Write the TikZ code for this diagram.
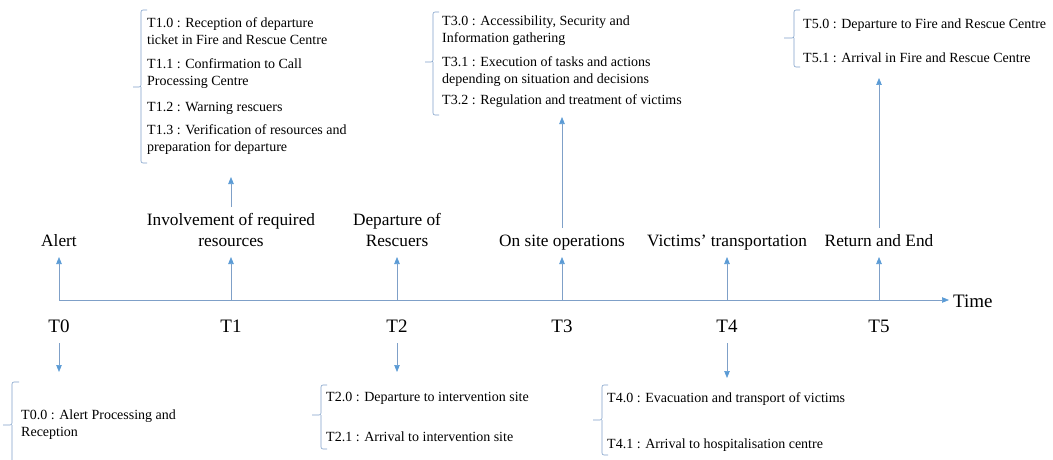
\documentclass[tikz,border=0pt]{standalone}
\usepackage{fontspec}
\setmainfont{Liberation Serif}
\usetikzlibrary{arrows.meta}

\definecolor{axisblue}{RGB}{127,160,200}
\definecolor{tipblue}{RGB}{91,155,213}

\tikzset{
  tl/.style={draw=axisblue, line width=0.7pt,
    -{Stealth[length=7pt,width=5.5pt,inset=0pt,color=tipblue]}},
  brace/.style={draw=axisblue, line width=0.6pt, rounded corners=2pt},
  phase/.style={font=\fontsize{17.3}{21}\selectfont, align=center,
    inner xsep=2pt, inner ysep=3.7pt, anchor=south},
  tmark/.style={font=\fontsize{19}{23}\selectfont, inner sep=0pt,
    text height=13pt, text depth=0pt},
  task/.style={font=\fontsize{14}{17}\selectfont, align=left,
    anchor=west, inner sep=0pt},
}

\begin{document}
\begin{tikzpicture}[x=1pt,y=-1pt]
    \useasboundingbox (0,0) rectangle (1053,460);

    % time axis
    \coordinate (p0) at (59,300);
    \coordinate (p1) at (231,300);
    \coordinate (p2) at (397,300);
    \coordinate (p3) at (562,300);
    \coordinate (p4) at (727,300);
    \coordinate (p5) at (879,300);
    \node[font=\fontsize{19}{23}\selectfont, anchor=west, inner sep=4pt] (time) at (949,301) {Time};
    \draw[tl] (p0) -- (p0 -| time.west);

    % phases
    \node[phase] (alert) at (59,257) {Alert\strut};
    \node[phase] (inv) at (231,257) {Involvement of required\strut\\resources\strut};
    \node[phase] (dep) at (397,257) {Departure of\strut\\Rescuers\strut};
    \node[phase] (site) at (562,257) {On site operations\strut};
    \node[phase] (transp) at (727,257) {Victims’ transportation\strut};
    \node[phase] (ret) at (879,257) {Return and End\strut};
    \draw[tl] (p0) -- (alert);
    \draw[tl] (p1) -- (inv);
    \draw[tl] (p2) -- (dep);
    \draw[tl] (p3) -- (site);
    \draw[tl] (p4) -- (transp);
    \draw[tl] (p5) -- (ret);

    % instants
    \node[tmark] (T0) at (59,326) {T0};
    \node[tmark] (T1) at (231,326) {T1};
    \node[tmark] (T2) at (397,326) {T2};
    \node[tmark] (T3) at (562,326) {T3};
    \node[tmark] (T4) at (727,326) {T4};
    \node[tmark] (T5) at (879,326) {T5};

    % tasks above the axis
    \coordinate (b1) at (231,177);
    \coordinate (b3) at (562,117);
    \coordinate (b5) at (879,78);
    \draw[tl] (inv) -- (b1);
    \draw[tl] (site) -- (b3);
    \draw[tl] (ret) -- (b5);

    \draw[brace] (147,10) -- (141,10) -- (141,87) -- (133,87) (141,87) -- (141,163) -- (147,163);
    \node[task] (t10) at (147,31) {T1.0 : Reception of departure\\ticket in Fire and Rescue Centre};
    \node[task] (t11) at (147,74) {T1.1 : Confirmation to Call\\Processing Centre};
    \node[task] (t12) at (147,108) {T1.2 : Warning rescuers};
    \node[task] (t13) at (147,140) {T1.3 : Verification of resources and\\preparation for departure};

    \draw[brace] (439,12) -- (433,12) -- (433,62) -- (425,62) (433,62) -- (433,115) -- (439,115);
    \node[task] (t30) at (442,31) {T3.0 : Accessibility, Security and\\Information gathering};
    \node[task] (t31) at (442,72) {T3.1 : Execution of tasks and actions\\depending on situation and decisions};
    \node[task] (t32) at (442,101) {T3.2 : Regulation and treatment of victims};

    \draw[brace] (800,10) -- (794,10) -- (794,38) -- (784,38) (794,38) -- (794,67) -- (800,67);
    \node[task] (t50) at (803,25) {T5.0 : Departure to Fire and Rescue Centre};
    \node[task] (t51) at (803,58) {T5.1 : Arrival in Fire and Rescue Centre};

    % tasks below the axis
    \coordinate (d0) at (59,372);
    \coordinate (d2) at (397,372);
    \coordinate (d4) at (727,378);
    \draw[tl, shorten <=10.5pt] (T0) -- (d0);
    \draw[tl, shorten <=10.5pt] (T2) -- (d2);
    \draw[tl, shorten <=10.5pt] (T4) -- (d4);

    \draw[brace] (19,382) -- (12,382) -- (12,425) -- (3,425) (12,425) -- (12,470) -- (19,470);
    \node[task] (t00) at (21,425) {T0.0 : Alert Processing and\\Reception};

    \draw[brace] (327,385) -- (321,385) -- (321,415) -- (312,415) (321,415) -- (321,449) -- (327,449);
    \node[task] (t20) at (326,398) {T2.0 : Departure to intervention site};
    \node[task] (t21) at (326,437) {T2.1 : Arrival to intervention site};

    \draw[brace] (608,385) -- (602,385) -- (602,420) -- (593,420) (602,420) -- (602,455) -- (608,455);
    \node[task] (t40) at (607,399) {T4.0 : Evacuation and transport of victims};
    \node[task] (t41) at (607,445) {T4.1 : Arrival to hospitalisation centre};
\end{tikzpicture}
\end{document}
